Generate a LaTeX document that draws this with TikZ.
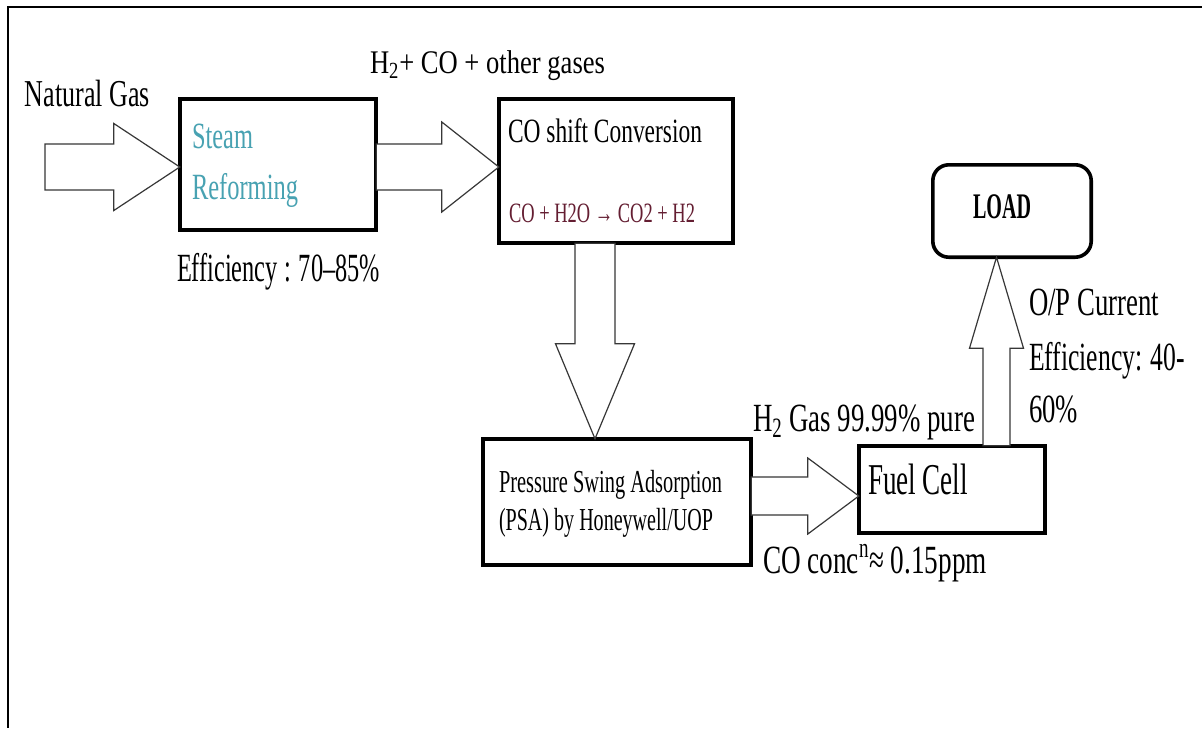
\documentclass[tikz,border=0pt]{standalone}
\usepackage{fontspec}
\setmainfont{Liberation Serif}
\usepackage{graphicx}
\usetikzlibrary{calc}
\definecolor{tealtxt}{RGB}{72,162,178}
\definecolor{maroontxt}{RGB}{100,30,50}
\definecolor{arrowgray}{RGB}{55,55,55}
\newcommand\fitt[3]{{\fontsize{#1}{#1}\selectfont\resizebox{#2}{\height}{#3}}}
% horizontal block arrow: start, tip, stem half, head half, signed dx tip->head base
\newcommand\blockh[5]{\draw[barrow] ($(#1)+(0,-#3)$) -- ($(#2)+(#5,-#3)$) -- ($(#2)+(#5,-#4)$) -- (#2) -- ($(#2)+(#5,#4)$) -- ($(#2)+(#5,#3)$) -- ($(#1)+(0,#3)$) -- cycle;}
% vertical block arrow: start, tip, stem half, head half, signed dy tip->head base
\newcommand\blockv[5]{\draw[barrow] ($(#1)+(-#3,0)$) -- ($(#2)+(-#3,#5)$) -- ($(#2)+(-#4,#5)$) -- (#2) -- ($(#2)+(#4,#5)$) -- ($(#2)+(#3,#5)$) -- ($(#1)+(#3,0)$) -- cycle;}
\begin{document}
\begin{tikzpicture}[x=0.5pt,y=-0.5pt,
 txt/.style={anchor=base west, inner sep=0pt, outer sep=0pt},
 blk/.style={draw=black, line width=1.8pt, inner sep=0pt, outer sep=0pt, fill=white},
 barrow/.style={draw=arrowgray, line width=0.6pt, fill=white, line join=miter}]
\useasboundingbox (0,0) rectangle (1202,728);
\fill[white] (0,0) rectangle (1202,728);
\draw[line width=1pt] (1202,7) -- (8,7) -- (8,728);

% boxes
\node[blk, minimum width=98.2pt, minimum height=65.7pt] (sr) at (278,164.5) {};
\node[blk, minimum width=117.2pt, minimum height=72.2pt] (co) at (616,171) {};
\node[blk, minimum width=134.2pt, minimum height=63.2pt] (psa) at (617,502) {};
\node[blk, minimum width=93.2pt, minimum height=43.7pt] (fc) at (952,489.5) {};
\node[blk, rounded corners=8pt, minimum width=79.2pt, minimum height=46.2pt] (load) at (1012,211) {};

% arrow coordinates
\coordinate (a1s) at (45,167);
\coordinate (a1t) at (sr.west |- a1s);
\coordinate (a2s) at (sr.east |- a1s);
\coordinate (a2t) at (co.west |- a1s);
\coordinate (a3x) at (595,0);
\coordinate (a3s) at (a3x |- co.south);
\coordinate (a3t) at (a3x |- psa.north);
\coordinate (a4y) at (0,496);
\coordinate (a4s) at (psa.east |- a4y);
\coordinate (a4t) at (fc.west |- a4y);
\coordinate (a5x) at (996.5,0);
\coordinate (a5s) at (a5x |- fc.north);
\coordinate (a5t) at (a5x |- load.south);

\blockh{a1s}{a1t}{23}{43.5}{-66}
\blockh{a2s}{a2t}{23}{45}{-57}
\blockv{a3s}{a3t}{20}{39.5}{-95}
\blockh{a4s}{a4t}{19}{38}{-51}
\blockv{a5s}{a5t}{13.5}{27}{91}

% texts
\node[txt] (ng) at (25,106) {\fitt{19pt}{62.5pt}{Natural Gas}};
\node[txt, text=tealtxt] (st1) at (192,148) {\fitt{18.5pt}{30.5pt}{Steam}};
\node[txt, text=tealtxt] (st2) at (192,199) {\fitt{18.5pt}{53pt}{Reforming}};
\node[txt] (eff1) at (177,281) {\fitt{20pt}{101.5pt}{Efficiency : 70–85\%}};
\node[txt] (gas1) at (370,73) {\fitt{16.5pt}{117.5pt}{H\textsubscript{2}+ CO + other gases}};
\node[txt] (cos) at (508,142) {\fitt{17pt}{97pt}{CO shift Conversion}};
\node[txt, text=maroontxt] (eq) at (509,222) {\fitt{14pt}{93pt}{CO + H2O → CO2 + H2}};
\node[txt] (psa1) at (499,492) {\fitt{16pt}{111.5pt}{Pressure Swing Adsorption}};
\node[txt] (psa2) at (499,530) {\fitt{16pt}{107pt}{(PSA) by Honeywell/UOP}};
\node[txt] (h2g) at (753,431) {\fitt{20pt}{111pt}{H\textsubscript{2} Gas 99.99\% pure}};
\node[txt] (fct) at (868,494) {\fitt{22pt}{50pt}{Fuel Cell}};
\node[txt] (coc) at (763,573) {\fitt{20pt}{112pt}{CO conc\textsuperscript{n}≈ 0.15ppm}};
\node[txt] (ldt) at (973,218) {\fitt{18pt}{29pt}{\bfseries LOAD}};
\node[txt] (op1) at (1029,315) {\fitt{20pt}{65pt}{O/P Current}};
\node[txt] (op2) at (1029,370) {\fitt{20pt}{78pt}{Efficiency: 40-}};
\node[txt] (op3) at (1029,422) {\fitt{20pt}{24.5pt}{60\%}};
\end{tikzpicture}
\end{document}
